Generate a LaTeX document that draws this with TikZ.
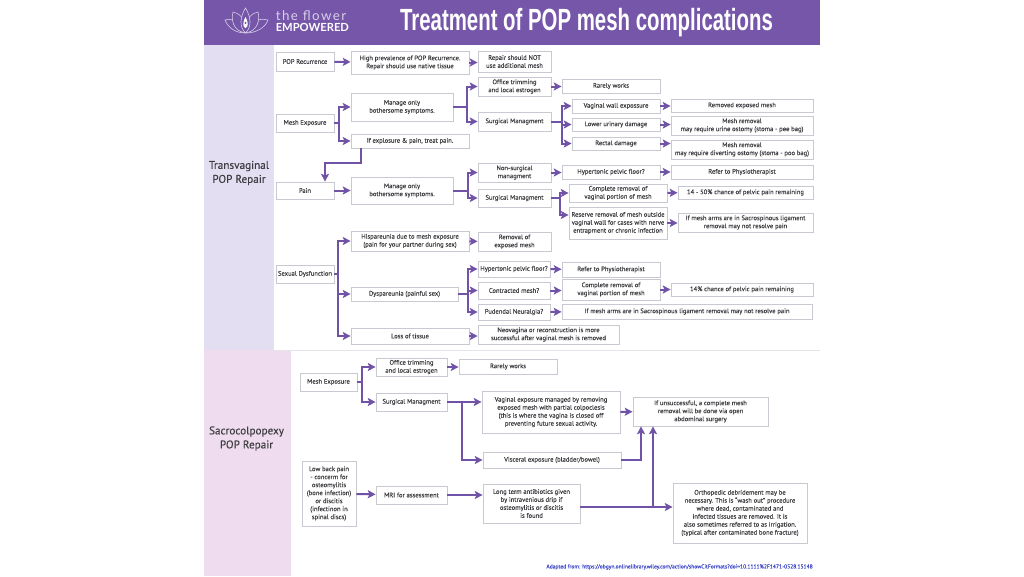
\documentclass[tikz,border=0pt]{standalone}
\usepackage{fontspec}
\setmainfont{PT Sans}[FakeBold=0.2]
\newfontfamily\titlefont{Liberation Sans}
\newfontfamily\logofont{Lato}
\usepackage{tikz}
\usetikzlibrary{arrows.meta}
\definecolor{headpurple}{HTML}{7556A8}
\definecolor{linkpurple}{HTML}{7052A6}
\definecolor{bandlilac}{HTML}{E3DEF1}
\definecolor{bandpink}{HTML}{EFDDEF}
\definecolor{boxgrey}{HTML}{C9C9D2}
\definecolor{textgrey}{HTML}{3E3E42}
\definecolor{petal}{HTML}{D9CFEA}
\tikzstyle{mybox} = [draw=boxgrey, fill=white, line width=0.7pt, rectangle, inner sep=0pt,
    align=center, text=textgrey, font=\fontsize{4.95}{6}\selectfont]
\tikzstyle{bandtitle} = [align=center, text=textgrey, font=\fontsize{8.4}{10.5}\selectfont]
\tikzstyle{link} = [draw=linkpurple, line width=1.5pt, -{Stealth[length=5.8pt,width=6pt,inset=1.2pt]}]
\tikzstyle{petalline} = [draw=petal, line width=0.45pt]
\tikzset{boxw/.style={minimum width=#1*0.75pt}, boxh/.style={minimum height=#1*0.75pt}}
\begin{document}
\begin{tikzpicture}[x=0.75pt,y=-0.75pt]
\useasboundingbox (0,0) rectangle (1024,576);
\fill[white] (0,0) rectangle (1024,576);
% header and side bands
\fill[headpurple] (204,0) rectangle (820,45);
\fill[bandlilac] (204,45) rectangle (274,350);
\fill[bandpink] (204,350) rectangle (291,576);
\draw[boxgrey!50, line width=0.4pt] (274,350) -- (820,350);
\node[text=white, font=\titlefont\bfseries\fontsize{23}{23}\selectfont] (title) at (586.5,23)
    {\scalebox{0.665}[1]{Treatment of POP mesh complications}};
% logo
\draw[petalline] (245.5,33) .. controls (239,27) and (240,17) .. (245.5,8) .. controls (251,17) and (252,27) .. (245.5,33);
\draw[petalline] (245.5,33) .. controls (233,31) and (231,20) .. (233,12) .. controls (237,13) and (240,15) .. (241.5,17);
\draw[petalline] (245.5,33) .. controls (258,31) and (260,20) .. (258,12) .. controls (254,13) and (251,15) .. (249.5,17);
\draw[petalline] (245.5,33) .. controls (236,33) and (228,28) .. (225,20) .. controls (228,19) and (231,19) .. (232,20);
\draw[petalline] (245.5,33) .. controls (256,33) and (265,28) .. (268,20) .. controls (265,19) and (261,19) .. (259,20);
\fill[white] (245.5,17) .. controls (242.5,22) and (242.5,27) .. (245.5,28) .. controls (248.5,27) and (248.5,22) .. (245.5,17);
\fill[headpurple] (245.5,23) circle (1.2);
\node[text=petal, font=\logofont\fontsize{10}{10}\selectfont, anchor=west, inner sep=0pt] (logotop) at (275.5,16) {\addfontfeature{LetterSpace=11}the flower};
\node[text=white, font=\logofont\bfseries\fontsize{8.4}{8}\selectfont, anchor=west, inner sep=0pt] (logobot) at (275.5,27.5) {EMPOWERED};
\node[bandtitle] (tvlabel) at (239,173) {Transvaginal\\POP Repair};
\node[bandtitle] (sclabel) at (246.5,438.5) {Sacrocolpopexy\\POP Repair};
% transvaginal boxes
\node[mybox, boxw=58, boxh=19] (recur) at (305,61.5) {POP Recurrence};
\node[mybox, boxw=118, boxh=23] (prev) at (410,62.5) {High prevalence of POP Recurrence.\\Repair should use native tissue};
\node[mybox, boxw=73, boxh=21] (nomesh) at (514.5,61.5) {Repair should NOT\\use additional mesh};
\node[mybox, boxw=58, boxh=18] (mexp) at (305,123) {Mesh Exposure};
\node[mybox, boxw=102, boxh=28] (manage) at (402,107) {Manage only\\bothersome symptoms.};
\node[mybox, boxw=118, boxh=14] (ifexp) at (410,141) {If explosure \& pain, treat pain.};
\node[mybox, boxw=73, boxh=19] (office) at (514.5,86.5) {Office trimming\\and local estrogen};
\node[mybox, boxw=98, boxh=14] (rarely) at (611,86) {Rarely works};
\node[mybox, boxw=73, boxh=19] (surg) at (514.5,121.5) {Surgical Managment};
\node[mybox, boxw=88, boxh=14] (vagwall) at (616,106) {Vaginal wall expossure};
\node[mybox, boxw=142, boxh=13] (remexp) at (742,105.5) {Removed exposed mesh};
\node[mybox, boxw=88, boxh=13] (lower) at (616,124.5) {Lower urinary damage};
\node[mybox, boxw=142, boxh=19] (urine) at (742,125.5) {Mesh removal\\may require urine ostomy (stoma - pee bag)};
\node[mybox, boxw=88, boxh=13] (rectal) at (616,143.5) {Rectal damage};
\node[mybox, boxw=142, boxh=19] (poo) at (742,149.5) {Mesh removal\\may require diverting ostomy (stoma - poo bag)};
\node[mybox, boxw=58, boxh=17] (pain) at (305,190.5) {Pain};
\node[mybox, boxw=102, boxh=27] (managetwo) at (402,190.5) {Manage only\\bothersome symptoms.};
\node[mybox, boxw=73, boxh=19] (nonsurg) at (514.5,172.5) {Non-surgical\\managment};
\node[mybox, boxw=98, boxh=14] (hyper) at (611,172) {Hypertonic pelvic floor?};
\node[mybox, boxw=142, boxh=14] (refer) at (742,172) {Refer to Physiotherapist};
\node[mybox, boxw=73, boxh=18] (surgtwo) at (514.5,198) {Surgical Managment};
\node[mybox, boxw=98, boxh=18] (complete) at (618,193) {Complete removal of\\vaginal portion of mesh};
\node[mybox, boxw=135, boxh=13] (chance) at (745.5,192.5) {14 - 50\% chance of pelvic pain remaining};
\node[mybox, boxw=98, boxh=32] (reserve) at (618,223) {Reserve removal of mesh outside\\vaginal wall for cases with nerve\\entrapment or chronic infection};
\node[mybox, boxw=135, boxh=19] (arms) at (745.5,222.5) {If mesh arms are in Sacrospinous ligament\\removal may not resolve pain};
\node[mybox, boxw=58, boxh=18] (sexual) at (305,274) {Sexual Dysfunction};
\node[mybox, boxw=118, boxh=20] (hisp) at (410,241) {Hispareunia due to mesh exposure\\(pain for your partner during sex)};
\node[mybox, boxw=73, boxh=19] (removal) at (514.5,241.5) {Removal of\\exposed mesh};
\node[mybox, boxw=107, boxh=14] (dysp) at (404.5,294) {Dyspareunia (painful sex)};
\node[mybox, boxw=72, boxh=16] (hypertwo) at (514,269) {Hypertonic pelvic floor?};
\node[mybox, boxw=98, boxh=15] (refertwo) at (611,269.5) {Refer to Physiotherapist};
\node[mybox, boxw=72, boxh=17] (contract) at (514,290.5) {Contracted mesh?};
\node[mybox, boxw=98, boxh=21] (completetwo) at (611,289.5) {Complete removal of\\vaginal portion of mesh};
\node[mybox, boxw=142, boxh=13] (chancetwo) at (742,289.5) {14\% chance of pelvic pain remaining};
\node[mybox, boxw=72, boxh=16] (pudendal) at (514,312) {Pudendal Neuralgia?};
\node[mybox, boxw=250, boxh=15] (armstwo) at (687,311.5) {If mesh arms are in Sacrospinous ligament removal may not resolve pain};
\node[mybox, boxw=118, boxh=16] (loss) at (410,336) {Loss of tissue};
\node[mybox, boxw=141, boxh=19] (neo) at (548.5,334.5) {Neovagina or reconstruction is more\\successful after vaginal mesh is removed};
% sacrocolpopexy boxes
\node[mybox, boxw=57, boxh=18] (mexptwo) at (328.5,382) {Mesh Exposure};
\node[mybox, boxw=71, boxh=18] (officetwo) at (411.5,367) {Office trimming\\and local estrogen};
\node[mybox, boxw=98, boxh=15] (rarelytwo) at (508,366.5) {Rarely works};
\node[mybox, boxw=71, boxh=18] (surgthree) at (411.5,402) {Surgical Managment};
\node[mybox, boxw=138, boxh=42] (vagexp) at (551,412) {Vaginal exposure managed by removing\\exposed mesh with partial colpoclesis\\(this is where the vagina is closed off\\preventing future sexual activity.};
\node[mybox, boxw=135, boxh=29] (unsucc) at (700.5,411.5) {If unsuccessful, a complete mesh\\removal will be done via open\\abdominal surgery};
\node[mybox, boxw=138, boxh=16] (visceral) at (552,460) {Visceral exposure (bladder/bowel)};
\node[mybox, boxw=54, boxh=65] (lowback) at (329,493.5) {Low back pain\\- concerm for\\osteomylitis\\(bone infection)\\or discitis\\(infectinon in\\spinal discs)};
\node[mybox, boxw=71, boxh=18] (mri) at (411.5,495) {MRI for assessment};
\node[mybox, boxw=97, boxh=39] (longterm) at (531.5,503.5) {Long term antibiotics given\\by intravenious drip if\\osteomylitis or discitis\\is found};
\node[mybox, boxw=134, boxh=60] (ortho) at (740,513) {Orthopedic debridement may be\\necessary. This is ``wash out'' procedure\\where dead, contaminated and\\infected tissues are removed. It is\\also sometimes referred to as irrigation.\\(typical after contaminated bone fracture)};
\node[text={rgb,255:red,62;green,72;blue,200}, anchor=east, inner sep=0pt, font=\fontsize{4.2}{5}\selectfont] (source) at (813,567)
    {Adapted from: https://obgyn.onlinelibrary.wiley.com/action/showCitFormats?doi=10.1111\%2F1471-0528.15148};
% transvaginal links
\draw[link] (recur) -- (prev);
\draw[link] (prev.east) -- (prev.east -| nomesh.west);
\draw[link] (mexp.east) -- +(5,0) |- (manage);
\draw[link] (mexp.east) -- +(5,0) |- (ifexp);
\draw[link] (manage.east) -- +(14,0) |- (office);
\draw[link] (manage.east) -- +(14,0) |- (surg);
\draw[link] (office.east) -- (office.east -| rarely.west);
\draw[link] (surg.east) -- +(11,0) |- (vagwall);
\draw[link] (surg.east) -- +(11,0) |- (lower);
\draw[link] (surg.east) -- +(11,0) |- (rectal);
\draw[link] (vagwall.east) -- (vagwall.east -| remexp.west);
\draw[link] (lower.east) -- (lower.east -| urine.west);
\draw[link] (rectal.east) -- (rectal.east -| poo.west);
\coordinate (painbend) at (325,163);
\draw[link] ([xshift=7.5pt]ifexp.south west) |- (painbend) -- (pain.north -| painbend);
\draw[link] (pain) -- (managetwo);
\draw[link] (managetwo.east) -- +(15,0) |- (nonsurg);
\draw[link] (managetwo.east) -- +(15,0) |- (surgtwo);
\draw[link] (nonsurg.east) -- (nonsurg.east -| hyper.west);
\draw[link] (hyper) -- (refer);
\draw[link] (surgtwo.east) -- +(9,0) |- (complete);
\draw[link] (surgtwo.east) -- +(9,0) |- ([yshift=6pt]reserve.west);
\draw[link] (complete) -- (chance);
\draw[link] (reserve.east) -- (reserve.east -| arms.west);
\draw[link] (sexual.east) -- +(4,0) |- (hisp);
\draw[link] (sexual.east) -- +(4,0) |- (dysp);
\draw[link] (sexual.east) -- +(4,0) |- (loss);
\draw[link] (hisp) -- (removal);
\draw[link] (dysp.east) -- +(10,0) |- (hypertwo);
\draw[link] (dysp.east) -- +(10,0) |- (contract);
\draw[link] (dysp.east) -- +(10,0) |- (pudendal);
\draw[link] (hypertwo) -- (refertwo);
\draw[link] (contract.east) -- (contract.east -| completetwo.west);
\draw[link] (completetwo) -- (chancetwo);
\draw[link] (pudendal) -- (armstwo);
\draw[link] (loss.east) -- (loss.east -| neo.west);
% sacrocolpopexy links
\draw[link] (mexptwo.east) -- +(4.5,0) |- (officetwo);
\draw[link] (mexptwo.east) -- +(4.5,0) |- (surgthree);
\draw[link] (officetwo.east) -- (officetwo.east -| rarelytwo.west);
\draw[link] (surgthree.east) -- (surgthree.east -| vagexp.west);
\draw[link] (surgthree.east) -- +(15,0) |- (visceral);
\draw[link] (vagexp) -- (unsucc);
\coordinate (viscup) at (641,460);
\draw[link] (visceral.east) -- (viscup) -- (unsucc.south -| viscup);
\draw[link] (lowback) -- (mri);
\draw[link] (mri) -- (mri -| longterm.west);
\coordinate (longjoin) at (653,507);
\draw[link] (longterm.east |- longjoin) -- (ortho.west |- longjoin);
\draw[link] (longjoin) -- (unsucc.south -| longjoin);
\end{tikzpicture}
\end{document}
